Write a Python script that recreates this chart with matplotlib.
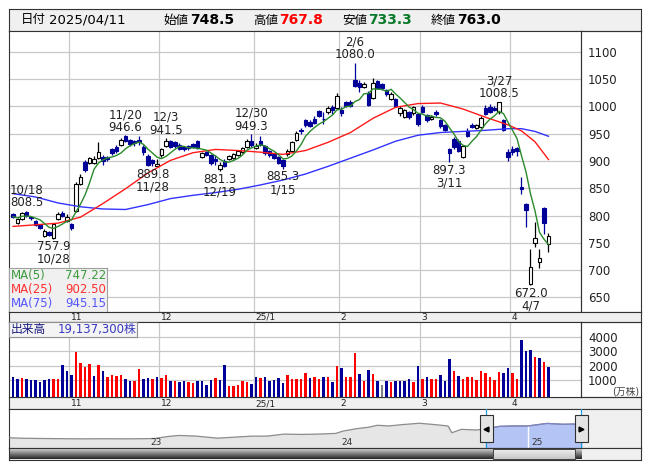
import numpy as np
import pandas as pd
import matplotlib
matplotlib.use("Agg")
import matplotlib.pyplot as plt
from matplotlib.patches import Rectangle

plt.rcParams['font.family'] = ['DejaVu Sans', 'Noto Sans CJK JP']

W, H = 653, 470

# ---- データ ----
dates = (
    ["2024/10/15", "2024/10/16", "2024/10/17", "2024/10/18", "2024/10/21", "2024/10/22", "2024/10/23",
     "2024/10/24", "2024/10/25", "2024/10/28", "2024/10/29", "2024/10/30", "2024/10/31"]
    + ["2024/11/01", "2024/11/05", "2024/11/06", "2024/11/07", "2024/11/08", "2024/11/11", "2024/11/12",
       "2024/11/13", "2024/11/14", "2024/11/15", "2024/11/18", "2024/11/19", "2024/11/20", "2024/11/21",
       "2024/11/22", "2024/11/25", "2024/11/26", "2024/11/27", "2024/11/28", "2024/11/29"]
    + ["2024/12/02", "2024/12/03", "2024/12/04", "2024/12/05", "2024/12/06", "2024/12/09", "2024/12/10",
       "2024/12/11", "2024/12/12", "2024/12/13", "2024/12/16", "2024/12/17", "2024/12/18", "2024/12/19",
       "2024/12/20", "2024/12/23", "2024/12/24", "2024/12/25", "2024/12/26", "2024/12/27", "2024/12/30"]
    + ["2025/01/06", "2025/01/07", "2025/01/08", "2025/01/09", "2025/01/10", "2025/01/14", "2025/01/15",
       "2025/01/16", "2025/01/17", "2025/01/20", "2025/01/21", "2025/01/22", "2025/01/23", "2025/01/24",
       "2025/01/27", "2025/01/28", "2025/01/29", "2025/01/30", "2025/01/31"]
    + ["2025/02/03", "2025/02/04", "2025/02/05", "2025/02/06", "2025/02/07", "2025/02/10", "2025/02/12",
       "2025/02/13", "2025/02/14", "2025/02/17", "2025/02/18", "2025/02/19", "2025/02/20", "2025/02/21",
       "2025/02/25", "2025/02/26", "2025/02/27", "2025/02/28"]
    + ["2025/03/03", "2025/03/04", "2025/03/05", "2025/03/06", "2025/03/07", "2025/03/10", "2025/03/11",
       "2025/03/12", "2025/03/13", "2025/03/14", "2025/03/17", "2025/03/18", "2025/03/19", "2025/03/21",
       "2025/03/24", "2025/03/25", "2025/03/26", "2025/03/27", "2025/03/28", "2025/03/31"]
    + ["2025/04/01", "2025/04/02", "2025/04/03", "2025/04/04", "2025/04/07", "2025/04/08", "2025/04/09",
       "2025/04/10", "2025/04/11"]
)

opens = [802, 787, 794, 806, 798, 790, 782, 762, 770, 759, 793, 805, 790,
         784, 808, 858, 898, 897, 897, 905, 908, 907, 921, 926, 929, 946, 938, 936, 938, 925, 909, 901, 891,
         910, 927, 936, 935, 930, 925, 928, 931, 936, 908, 917, 911, 904, 886, 900, 904, 906, 911, 916, 926, 937,
         924, 936, 927, 918, 912, 907, 901, 912, 919, 938, 957, 974, 972, 976, 991, 977, 989, 998, 997,
         994, 1007, 1008, 1048, 1042, 1036, 1025, 1016, 1046, 1040, 1029, 1014, 1013, 987, 981, 989, 987, 986,
         999, 984, 976, 989, 974, 966, 922, 940, 937, 908, 955, 966, 961, 963, 997, 998, 997, 989, 975, 916,
         922, 924, 852, 821, 675, 750, 714, 814, 748.5]
highs = [805, 796, 807, 808.5, 800, 792, 784, 775, 772, 786, 806, 808, 803,
         787, 861, 876, 901, 908, 909, 935, 911, 909, 923, 929, 942, 946.6, 941, 938, 945, 930, 912, 903, 904,
         924, 941.5, 938, 937, 933, 927, 930, 933, 938, 916, 919, 913, 910, 898, 903, 911, 914, 920, 926, 940, 949.3,
         932, 945, 929, 920, 914, 909, 903, 921, 936, 955, 960, 976, 974, 983, 994, 990, 1000, 1002, 1024,
         998, 1009, 1012, 1080, 1048, 1044, 1028, 1052, 1049, 1042, 1031, 1027, 1015, 1000, 995, 991, 1001, 988,
         1002, 986, 984, 993, 976, 968, 924, 944, 940, 930, 960, 970, 968, 982, 1002, 1004, 1000, 1008.5, 977, 922,
         927, 926, 870, 823, 739.5, 788, 739, 815, 767.8]
lows = [796, 784, 792, 798, 792, 780, 775, 760, 762, 757.9, 791, 797, 788,
        773, 806, 855, 880, 895, 895, 903, 892, 899, 911, 915, 927, 934, 928, 927, 930, 910, 891, 889.8, 890,
        908, 925, 924, 924, 920, 919, 920, 924, 922, 906, 909, 892, 893, 881.3, 888, 902, 904, 909, 914, 924, 926,
        921, 928, 911, 908, 903, 894, 885.3, 909, 917, 936, 950, 963, 962, 968, 980, 968, 986, 985, 995,
        982, 998, 998, 1035, 1027, 1033, 1000, 1013, 1032, 1030, 1019, 1011, 999, 983, 978, 977, 984, 964,
        987, 972, 974, 983, 961, 955, 897.3, 922, 916, 906, 944, 960, 958, 960, 984, 988, 991, 985, 954, 900,
        910, 909, 840, 779, 672, 743, 703, 767, 733.3]
closes = [798, 793, 805, 800, 795, 783, 777, 772, 765, 784, 802, 799, 797,
          778, 858, 871, 884, 906, 904, 916, 899, 903, 914, 918, 939, 937, 931, 933, 934, 916, 893, 896, 895,
          921, 936, 926, 928, 922, 921, 923, 926, 924, 914, 911, 897, 899, 893, 891, 909, 912, 918, 924, 936, 929,
          928, 930, 914, 911, 906, 897, 890, 919, 934, 952, 954, 966, 964, 970, 983, 976, 997, 994, 1018,
          988, 1000, 1001, 1037, 1036, 1041, 1003, 1043, 1034, 1034, 1022, 1023, 1001, 997, 993, 980, 999, 967,
          989, 975, 981, 986, 964, 957, 914, 925, 919, 928, 946, 963, 966, 978, 986, 990, 993, 1007, 957, 907,
          916, 918, 849, 810, 706, 759, 722, 786.1, 763.0]
# 出来高（万株）
volumes = [1183, 1068, 1137, 1068, 1000, 1000, 861, 1000, 1068, 1068, 1068, 2034, 1620,
           1344, 2953, 2172, 1896, 2103, 1275, 2034, 1620, 1206, 1344, 1275, 1344, 1068, 930, 930, 1758, 1068, 1137, 1068, 1183,
           1137, 1344, 930, 930, 861, 930, 861, 792, 930, 930, 655, 1000, 1137, 1000, 2034, 586, 586, 655, 930, 861, 724,
           1206, 1137, 1206, 930, 1000, 1137, 792, 1344, 1068, 1068, 1068, 1482, 1137, 1206, 1068, 1206, 1206, 861, 1965,
           1827, 1206, 1206, 2861, 1413, 930, 1689, 1413, 930, 655, 930, 861, 930, 930, 930, 1068, 861, 1965,
           1068, 1206, 1068, 1068, 1344, 930, 2448, 1620, 1275, 1068, 1206, 1206, 1000, 1620, 1482, 1206, 1000, 1551, 1482, 1827,
           1482, 1068, 3758, 3022, 3068, 2586, 2517, 2241, 1913.73]

# 移動平均（25日・75日）は画像から5本おきに読み取り
ma_idx = [0, 5, 10, 15, 20, 25, 30, 35, 40, 45, 50, 55, 60, 65, 70, 75, 80, 85, 90, 95, 100, 105, 110, 113, 116, 119]
ma25_val = [780, 783, 786, 797, 822, 849, 878, 901, 915, 921, 919, 916, 912, 919, 934, 952, 978, 998,
            1005, 1006, 995, 980, 966, 955, 935, 902.5]
ma75_val = [840, 834, 823, 816, 812, 811, 820, 831, 837, 842, 848, 856, 865, 876, 890, 905, 920, 936,
            947, 952, 954, 956, 959, 959, 954, 945.15]

# 高値・安値の注記
marks = [("2024/10/18", "high"), ("2024/10/28", "low"), ("2024/11/20", "high"), ("2024/11/28", "low"),
         ("2024/12/03", "high"), ("2024/12/19", "low"), ("2024/12/30", "high"), ("2025/01/15", "low"),
         ("2025/02/06", "high"), ("2025/03/11", "low"), ("2025/03/27", "high"), ("2025/04/07", "low")]

# ナビゲーター（長期の終値推移, 年, 円）
nav_year = [2022.28, 2022.35, 2022.45, 2022.55, 2022.67, 2022.78, 2022.89, 2022.98, 2023.04, 2023.11,
            2023.17, 2023.26, 2023.37, 2023.46, 2023.55, 2023.63, 2023.72, 2023.81, 2023.90, 2023.99,
            2024.03, 2024.10, 2024.16, 2024.21, 2024.27, 2024.34, 2024.43, 2024.51, 2024.58, 2024.60,
            2024.65, 2024.73, 2024.78, 2024.85, 2024.92, 2025.00, 2025.10, 2025.18, 2025.24, 2025.28]
nav_price = [360, 340, 328, 320, 312, 318, 312, 320, 328, 424, 472, 440, 344, 392, 440, 440, 536, 520,
             536, 568, 680, 792, 856, 952, 920, 984, 1048, 984, 920, 600, 760, 728, 792, 900, 920, 920,
             1040, 1000, 1010, 950]
sel_start, sel_end = 2024.78, 2025.28

# ---- 計算 ----
n = len(dates)
x = np.arange(n)
o = np.array(opens, dtype=float)
h = np.array(highs, dtype=float)
l = np.array(lows, dtype=float)
c = np.array(closes, dtype=float)
ma5 = pd.Series(c).rolling(5, min_periods=1).mean()
prev = np.concatenate([[o[0]], c[:-1]])
vol_col = np.where(c > prev, '#ff0000', np.where(c < prev, '#000099', '#808080'))
month_starts = [i for i in range(1, n) if dates[i][5:7] != dates[i - 1][5:7]]

# ---- レイアウト（ピクセル） ----
PX = 4.5   # 1本あたりのピクセル
X0 = 13    # 最初の足のピクセル位置


def ix(px):
    return (px - X0) / PX


def box(x0, y0, x1, y1):
    return [x0 / W, 1 - y1 / H, (x1 - x0) / W, (y1 - y0) / H]


def yr(px):
    return 2023 + (px - 147) / 190.5


fig = plt.figure(figsize=(W / 100, H / 100), dpi=100)
fig.patch.set_facecolor('white')
EDGE = '#333333'
GRID = '#c8c8c8'


def frame(a, fc='white'):
    a.set_facecolor(fc)
    a.set_xticks([])
    a.set_yticks([])
    for s in a.spines.values():
        s.set_color(EDGE)
        s.set_linewidth(0.8)


# ---- ヘッダー ----
ah = fig.add_axes(box(9, 9, 641, 31))
frame(ah, '#f0f0f0')
ah.set_xlim(0, W)
ah.set_ylim(31, 9)
ah.text(12, 20, "日付", fontsize=9, va='center')
ah.text(41, 20, dates[-1], fontsize=9.5, va='center')
for name, val, col, px in [("始値", o[-1], 'black', 160), ("高値", h[-1], '#ff0000', 252),
                           ("安値", l[-1], '#0a7a2a', 344), ("終値", c[-1], 'black', 436)]:
    ah.text(px, 20.5, name, fontsize=9, va='center')
    ah.text(px + 27, 20, f"{val:.1f}", fontsize=10, fontweight='bold', color=col, va='center')

# ---- 株価チャート ----
ax = fig.add_axes(box(9, 31, 581, 312))
frame(ax)
ax.set_xlim(ix(9), ix(581))
ax.set_ylim(623.3, 1137.9)
for v in range(650, 1101, 50):
    ax.axhline(v, color=GRID, lw=0.9, zorder=0)
for i in month_starts:
    ax.axvline(i - 0.5, color=GRID, lw=0.9, zorder=0)
ax.yaxis.tick_right()
ax.set_yticks(range(650, 1101, 50))
ax.tick_params(axis='y', length=0, pad=5, labelsize=8.5, labelcolor='#222222')

up = c >= o
wick = np.where(up, 'black', '#000099')
ax.vlines(x, l, h, colors=wick, lw=0.9, zorder=2)
body_h = np.maximum(np.abs(c - o), 0.9)
ax.bar(x, body_h, bottom=np.minimum(o, c), width=0.72,
       color=np.where(up, 'white', '#000099'), edgecolor=wick, lw=0.8, zorder=3)

ax.plot(ma_idx, ma75_val, color='#3333ff', lw=1.0, zorder=4)
ax.plot(ma_idx, ma25_val, color='#ff1a1a', lw=1.0, zorder=4)
ax.plot(x, ma5, color='#2a8a2a', lw=1.0, zorder=4)

for d, kind in marks:
    i = dates.index(d)
    lab = f"{int(d[5:7])}/{int(d[8:10])}"
    if kind == "high":
        ax.annotate(f"{lab}\n{h[i]:.1f}", (i, h[i]), xytext=(0, 1), textcoords='offset points',
                    ha='center', va='bottom', fontsize=8.5, linespacing=1.0, color='#222222', zorder=6)
    else:
        ax.annotate(f"{l[i]:.1f}\n{lab}", (i, l[i]), xytext=(0, -1), textcoords='offset points',
                    ha='center', va='top', fontsize=8.5, linespacing=1.0, color='#222222', zorder=6)

# 価格軸の外枠
ar = fig.add_axes(box(581, 31, 641, 312))
frame(ar, 'none')

# 移動平均の凡例
al = fig.add_axes(box(9, 268, 107, 312))
frame(al, '#f0f0f0')
for s in al.spines.values():
    s.set_color('#a0a0a0')
al.set_xlim(0, 98)
al.set_ylim(44, 0)
for k, (name, val, col) in enumerate([("MA(5)", ma5.iloc[-1], '#3c9a3c'),
                                       ("MA(25)", ma25_val[-1], '#ff3030'),
                                       ("MA(75)", ma75_val[-1], '#5555ff')]):
    al.text(2, 7.5 + 14 * k, name, color=col, fontsize=8.5, va='center')
    al.text(97, 7.5 + 14 * k, f"{val:.2f}", color=col, fontsize=8.5, va='center', ha='right')

# ---- 月ラベル帯 ----
for y0, y1 in [(312, 322), (397, 409)]:
    ab = fig.add_axes(box(9, y0, 641, y1))
    frame(ab, '#f0f0f0')
    ab.set_xlim(ix(9), ix(641))
    ab.set_ylim(0, 1)
    for i in month_starts:
        m = int(dates[i][5:7])
        lab = f"{dates[i][2:4]}/{m}" if m == 1 else str(m)
        ab.text(i - 0.2, 0.45, lab, fontsize=6.5, va='center', ha='left', color='#222222')

# ---- 出来高 ----
av = fig.add_axes(box(9, 322, 581, 397))
frame(av)
av.set_xlim(ix(9), ix(581))
vlow = -180
av.set_ylim(vlow, 5017)
for v in range(1000, 4001, 1000):
    av.axhline(v, color=GRID, lw=0.9, zorder=0)
for i in month_starts:
    av.axvline(i - 0.5, color=GRID, lw=0.9, zorder=0)
vol = np.array(volumes, dtype=float)
av.bar(x, vol - vlow, bottom=vlow, width=0.62, color=vol_col, zorder=2)
av.yaxis.tick_right()
av.set_yticks(range(1000, 4001, 1000))
av.tick_params(axis='y', length=0, pad=5, labelsize=8.5, labelcolor='#222222')

avr = fig.add_axes(box(581, 322, 641, 397))
frame(avr, 'none')
avr.set_xlim(0, 60)
avr.set_ylim(75, 0)
avr.text(58, 70, "(万株)", fontsize=7, ha='right', va='center', color='#444444')

avl = fig.add_axes(box(9, 322, 137, 337))
frame(avl, '#f4f4f4')
for s in avl.spines.values():
    s.set_color('#909090')
avl.set_xlim(0, 128)
avl.set_ylim(15, 0)
avl.text(2, 7.5, "出来高", fontsize=8.5, va='center', color='#1a1a80')
avl.text(127, 7.5, f"{vol[-1] * 10000:,.0f}株", fontsize=8.5, va='center', ha='right', color='#3a3ac0')

# ---- ナビゲーター ----
an = fig.add_axes(box(9, 409, 641, 448))
frame(an, '#f0f0f0')
an.set_xlim(yr(9), yr(641))
an.set_ylim(-120, 1720)
an.axvspan(yr(9), sel_end, color='white', zorder=0)
ny = np.array(nav_year)
npx = np.array(nav_price, dtype=float)
an.fill_between(ny, npx, -120, color='#e6e6e6', zorder=1)
sel = ny >= sel_start - 0.02
an.fill_between(ny[sel], npx[sel], -120, color='#b4c4f4', zorder=2)
an.plot(ny, npx, color='#8c8c8c', lw=0.9, zorder=3)
an.plot(ny[sel], npx[sel], color='#7c84c4', lw=0.9, zorder=3)
for y_ in (2023, 2024, 2025):
    an.text(y_ + 0.02, 150, str(y_)[2:], fontsize=6.5, va='center', ha='left', color='#333333', zorder=4)
an.axvline(2025, color='white', lw=1, zorder=2.5)
for s_ in (sel_start, sel_end):
    an.axvline(s_, color='#20a0e0', lw=0.9, zorder=4)
hw = 6.5 / 190.5
for s_, mk in ((sel_start, '<'), (sel_end, '>')):
    an.add_patch(Rectangle((s_ - hw, 180), 2 * hw, 1250, facecolor='#e4e4e4', edgecolor='#303030',
                           lw=0.8, zorder=5))
    an.plot([s_], [800], marker=mk, color='black', ms=3.5, zorder=6)

# スクロールバー
asb = fig.add_axes(box(9, 448, 641, 460))
frame(asb, '#f0f0f0')
asb.set_xlim(yr(9), yr(641))
asb.set_ylim(0, 1)
grad = np.linspace(0.85, 0.15, 20).reshape(-1, 1)
asb.imshow(grad, extent=[yr(10), sel_end, 0.05, 0.95], cmap='gray', vmin=0, vmax=1,
           aspect='auto', zorder=1)
grad2 = np.linspace(0.95, 0.78, 20).reshape(-1, 1)
asb.imshow(grad2, extent=[sel_start + hw, sel_end - hw, 0.05, 0.95], cmap='gray', vmin=0, vmax=1,
           aspect='auto', zorder=2)
asb.add_patch(Rectangle((sel_start + hw, 0.05), sel_end - sel_start - 2 * hw, 0.9, fill=False,
                        edgecolor='#404040', lw=0.7, zorder=3))

fig.savefig("out.png", dpi=100)
